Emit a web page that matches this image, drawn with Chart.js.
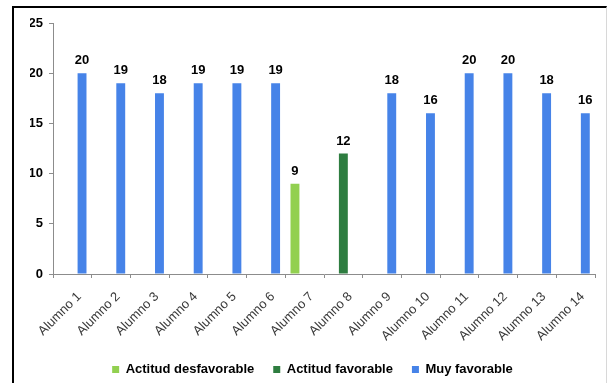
<!DOCTYPE html>
<html lang="es">
<head>
<meta charset="utf-8">
<title>Actitud de los alumnos</title>
<script src="https://cdn.jsdelivr.net/npm/chart.js@4.4.1/dist/chart.umd.min.js"></script>
<style>
    html, body {
        margin: 0;
        padding: 0;
        background: #ffffff;
    }
    #wrap {
        position: relative;
        width: 609px;
        height: 383px;
        overflow: hidden;
    }
    #frame {
        position: absolute;
        left: 12px;
        top: 6px;
        width: 592px;
        height: 400px;
        border-top: 2px solid #000000;
        border-left: 2px solid #000000;
        border-right: 1px solid #d8d8d8;
        pointer-events: none;
    }
    canvas {
        position: absolute;
        left: 0;
        top: 0;
    }
</style>
</head>
<body>
<div id="wrap">
    <canvas id="attitudeChart" width="609" height="383"></canvas>
    <div id="frame"></div>
</div>

<script>
// ==================== DATA ====================

const students = [
    'Alumno 1', 'Alumno 2', 'Alumno 3', 'Alumno 4', 'Alumno 5', 'Alumno 6', 'Alumno 7',
    'Alumno 8', 'Alumno 9', 'Alumno 10', 'Alumno 11', 'Alumno 12', 'Alumno 13', 'Alumno 14'
];

const unfavorable = [null, null, null, null, null, null, 9, null, null, null, null, null, null, null];
const favorable = [null, null, null, null, null, null, null, 12, null, null, null, null, null, null];
const veryFavorable = [20, 19, 18, 19, 19, 19, null, null, 18, 16, 20, 20, 18, 16];

const yTicks = [0, 5, 10, 15, 20, 25];

// ==================== STYLE ====================

const axisGray = '#8c8c8c';
const fontFamily = 'Liberation Sans, Arial, sans-serif';
const numberFont = { family: fontFamily, size: 13, weight: 'bold' };

// Value above every bar
const barValueLabels = {
    id: 'barValueLabels',
    afterDatasetsDraw(chart) {
        const ctx = chart.ctx;
        ctx.save();
        ctx.font = `bold ${numberFont.size}px ${numberFont.family}`;
        ctx.fillStyle = '#000000';
        ctx.textAlign = 'center';
        ctx.textBaseline = 'alphabetic';
        chart.data.datasets.forEach((dataset, i) => {
            const meta = chart.getDatasetMeta(i);
            meta.data.forEach((bar, j) => {
                const value = dataset.data[j];
                if (value === null || value === undefined) return;
                ctx.fillText(String(value), bar.x, bar.y - 9);
            });
        });
        ctx.restore();
    }
};

// ==================== CHART ====================

function buildChart() {
    const ctx = document.getElementById('attitudeChart').getContext('2d');

    const barOptions = {
        categoryPercentage: 0.75,
        barPercentage: 0.92,
        borderWidth: 0
    };

    return new Chart(ctx, {
        type: 'bar',
        data: {
            labels: students,
            datasets: [
                { label: 'Actitud desfavorable', data: unfavorable, backgroundColor: '#92d050', ...barOptions },
                { label: 'Actitud favorable', data: favorable, backgroundColor: '#2e7d40', ...barOptions },
                { label: 'Muy favorable', data: veryFavorable, backgroundColor: '#4683e8', ...barOptions }
            ]
        },
        options: {
            responsive: false,
            animation: false,
            devicePixelRatio: 1,
            layout: {
                // wide left padding keeps the legend centred under the plot
                padding: { top: 23, right: 14, bottom: -3, left: 30 }
            },
            plugins: {
                legend: {
                    position: 'bottom',
                    labels: {
                        boxWidth: 7,
                        boxHeight: 7,
                        padding: 19,
                        color: '#000000',
                        font: { family: fontFamily, size: 13, weight: 'bold' }
                    }
                },
                tooltip: { enabled: false }
            },
            scales: {
                x: {
                    afterFit(scale) {
                        scale.height = 70;
                    },
                    border: { color: axisGray, width: 1 },
                    grid: {
                        offset: true,
                        drawOnChartArea: false,
                        drawTicks: true,
                        tickLength: 4,
                        color: axisGray
                    },
                    ticks: {
                        minRotation: 45,
                        maxRotation: 45,
                        autoSkip: false,
                        padding: 11,
                        labelOffset: 7,
                        color: '#3a3a3a',
                        font: { family: fontFamily, size: 13 }
                    }
                },
                y: {
                    min: 0,
                    max: 25,
                    afterFit(scale) {
                        scale.width = 23;
                    },
                    afterBuildTicks(scale) {
                        scale.ticks = yTicks.map(v => ({ value: v }));
                    },
                    border: { color: axisGray, width: 1 },
                    grid: {
                        drawOnChartArea: false,
                        drawTicks: true,
                        tickLength: 4,
                        color: axisGray
                    },
                    ticks: {
                        padding: 6,
                        color: '#000000',
                        font: numberFont
                    }
                }
            }
        },
        plugins: [barValueLabels]
    });
}

document.addEventListener('DOMContentLoaded', () => {
    buildChart();
});
</script>
</body>
</html>
